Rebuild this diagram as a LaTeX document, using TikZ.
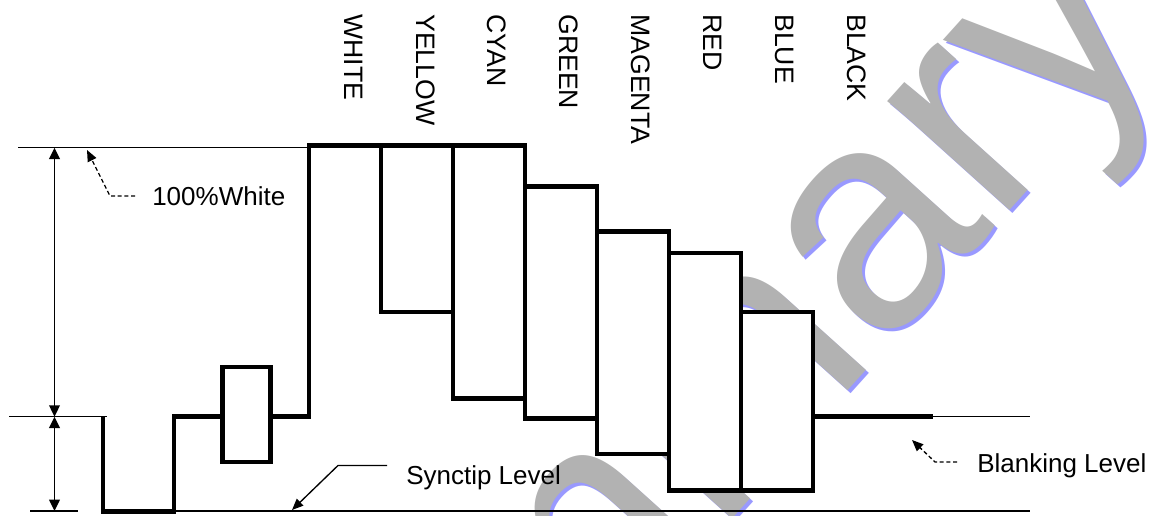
\documentclass[tikz,border=0pt]{standalone}
\usepackage{fontspec}
\setmainfont{Liberation Sans}
\usetikzlibrary{arrows.meta}
\definecolor{wmgray}{RGB}{178,178,178}
\definecolor{wmblue}{RGB}{153,153,255}
\begin{document}
\begin{tikzpicture}[x=0.75pt,y=-0.75pt,
  wave/.style={line width=3.4pt},
  box/.style={line width=3.4pt, fill=white},
  thinline/.style={line width=1.1pt},
  dim/.style={line width=1.1pt, {Triangle[length=8.5pt,width=8pt]}-{Triangle[length=8.5pt,width=8pt]}},
  leader/.style={line width=1pt, -{Triangle[length=8.5pt,width=7pt]}},
  dashleader/.style={leader, dash pattern=on 3pt off 2pt},
  hlbl/.style={font=\fontsize{19.5pt}{22pt}\selectfont, inner sep=0, anchor=base west},
  vlbl/.style={font=\fontsize{20pt}{24pt}\selectfont, inner sep=0, rotate=-90, anchor=base west},
  wm/.style={font=\fontsize{232.5pt}{240pt}\selectfont, inner sep=0, anchor=base west, rotate=48}]
\useasboundingbox (0,0) rectangle (1160,516);

% watermark
\begin{scope}
\clip (0,0) rectangle (1160,516);
\node[wm, text=wmblue] (wmshadow) at (134,1190) {Preliminary};
\node[wm, text=wmgray] (wmark) at (131,1187) {Preliminary};
\end{scope}

% reference levels (thin)
\coordinate (topL) at (18,147.7);
\coordinate (topR) at (309,147.7);
\coordinate (blkL) at (9,416.7);
\coordinate (blkLR) at (107,416.7);
\coordinate (synL) at (30,511);
\coordinate (synLR) at (78,511);
\coordinate (synA) at (102,511);
\coordinate (synR) at (1030,511);
\coordinate (blkRA) at (933,416.5);
\coordinate (blkR) at (1030,416.5);
\draw[thinline] (topL) -- (topR);
\draw[thinline] (blkL) -- (blkLR);
\draw[thinline] (synL) -- (synLR);
\draw[thinline] (synA) -- (synR);
\draw[thinline] (blkRA) -- (blkR);

% dimension arrows
\coordinate (d1) at (54.5,147.7);
\coordinate (d2) at (54.5,416.7);
\coordinate (d3) at (54.5,511);
\draw[dim] (d1) -- (d2);
\draw[dim] (d2) -- (d3);

% waveform
\draw[wave] (103,416.5) -- (103,511.5) -- (174,511.5) -- (174,416.5) -- (222.5,416.5);
\draw[wave] (270.5,416.5) -- (309,416.5) -- (309,145.5) -- (381,145.5);
\draw[box] (222.5,367) rectangle (270.5,462);
\draw[box] (381,145.5) rectangle (453,312);
\draw[box] (453,145.5) rectangle (525,398.3);
\draw[box] (525,186.5) rectangle (597,418.3);
\draw[box] (597,231.5) rectangle (669,453.8);
\draw[box] (669,253) rectangle (741,490.4);
\draw[box] (741,312) rectangle (813,490.4);
\coordinate (blkS) at (813,416.5);
\draw[wave] (blkS) -- (blkRA);

% column labels
\node[vlbl] (lwhite) at (344,14) {WHITE};
\node[vlbl] (lyellow) at (416.5,14) {YELLOW};
\node[vlbl] (lcyan) at (487,14) {CYAN};
\node[vlbl] (lgreen) at (559,14) {GREEN};
\node[vlbl] (lmagenta) at (631,14) {MAGENTA};
\node[vlbl] (lred) at (703,14) {RED};
\node[vlbl] (lblue) at (775,14) {BLUE};
\node[vlbl] (lblack) at (847.5,14) {BLACK};

% level labels and leaders
\node[hlbl] (lw) at (152,206) {100\%White};
\coordinate (w1) at (135,196);
\coordinate (w2) at (110,196);
\coordinate (wtip) at (87,150);
\draw[dashleader] (w1) -- (w2) -- (wtip);

\node[hlbl] (ls) at (406,484) {Synctip Level};
\coordinate (s1) at (387,465.5);
\coordinate (s2) at (338,465.5);
\coordinate (stip) at (292,510);
\draw[leader] (s1) -- (s2) -- (stip);

\node[hlbl] (lb) at (977,472.7) {Blanking Level};
\coordinate (b1) at (957,462);
\coordinate (b2) at (935,462);
\coordinate (btip) at (912,440);
\draw[dashleader] (b1) -- (b2) -- (btip);
\end{tikzpicture}
\end{document}
